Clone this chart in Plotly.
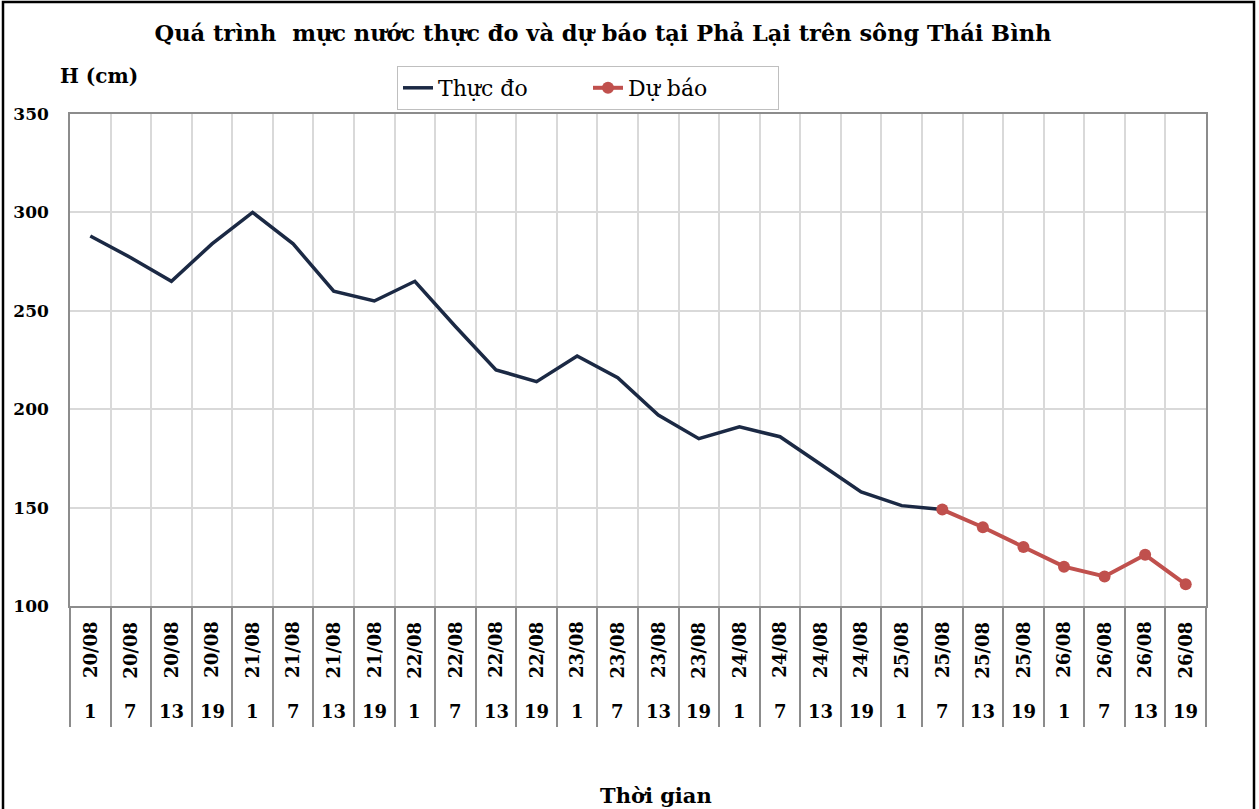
import plotly.graph_objects as go

# ---- data ----
dates = ["20/08"] * 4 + ["21/08"] * 4 + ["22/08"] * 4 + ["23/08"] * 4 + ["24/08"] * 4 + ["25/08"] * 4 + ["26/08"] * 4
hours = ["1", "7", "13", "19"] * 7

observed_values = [288, 277, 265, 284, 300, 284, 260, 255, 265, 242, 220, 214,
                   227, 216, 197, 185, 191, 186, 172, 158, 151, 149]
forecast_values = [149, 140, 130, 120, 115, 126, 111]

n = len(dates)
x_obs = list(range(len(observed_values)))
x_fc = list(range(len(observed_values) - 1, len(observed_values) - 1 + len(forecast_values)))

FONT = "DejaVu Serif"
NAVY = "#1b2944"
RED = "#c0504d"

fig = go.Figure()
fig.add_trace(go.Scatter(x=x_obs, y=observed_values, mode="lines", name="Thực đo",
                         line=dict(color=NAVY, width=3.5)))
fig.add_trace(go.Scatter(x=x_fc, y=forecast_values, mode="lines+markers", name="Dự báo",
                         line=dict(color=RED, width=4), marker=dict(color=RED, size=12)))

boundaries = [i - 0.5 for i in range(n + 1)]

# category labels under the axis
for i in range(n):
    fig.add_annotation(x=i, y=-0.089, xref="x", yref="paper", text=f"<b>{dates[i]}</b>",
                       textangle=-90, showarrow=False, font=dict(family=FONT, size=18, color="black"),
                       xanchor="center", yanchor="middle")
    fig.add_annotation(x=i, y=-0.215, xref="x", yref="paper", text=f"<b>{hours[i]}</b>",
                       showarrow=False, font=dict(family=FONT, size=18, color="black"),
                       xanchor="center", yanchor="middle")

fig.add_annotation(x=(656 - 70) / 1136, y=(606 - 795) / 492, xref="paper", yref="paper", text="<b>Thời gian</b>",
                   showarrow=False, font=dict(family=FONT, size=21, color="black"),
                   xanchor="center", yanchor="middle")
fig.add_annotation(x=(99 - 70) / 1136, y=(606 - 76) / 492, xref="paper", yref="paper", text="<b>H (cm)</b>",
                   showarrow=False, font=dict(family=FONT, size=20, color="black"),
                   xanchor="center", yanchor="middle")

# outer frame of the chart
fig.add_shape(type="rect", xref="paper", yref="paper",
              x0=-67 / 1136, x1=(1254 - 70) / 1136, y0=(606 - 840) / 492, y1=(606 - 2) / 492,
              line=dict(color="black", width=2.5), layer="above")

fig.update_layout(
    width=1259, height=809,
    margin=dict(l=70, r=53, t=114, b=203),
    paper_bgcolor="white", plot_bgcolor="white",
    font=dict(family=FONT, color="black"),
    title=dict(text="<b>Quá trình  mực nước thực đo và dự báo tại Phả Lại trên sông Thái Bình</b>",
               x=603 / 1259, xanchor="center", y=1 - 33 / 809, yanchor="middle",
               font=dict(family=FONT, size=22.5, color="black")),
    legend=dict(orientation="h", x=(588 - 70) / 1136, xanchor="center", y=(606 - 66) / 492, yanchor="top",
                bordercolor="#bfbfbf", borderwidth=1, bgcolor="white",
                font=dict(family=FONT, size=22, color="black"),
                entrywidth=145, entrywidthmode="pixels", tracegroupgap=0),
    showlegend=True,
)

fig.update_xaxes(range=[-0.5, n - 0.5], tickmode="array", tickvals=boundaries,
                 showticklabels=False, showgrid=True, gridcolor="#d9d9d9", gridwidth=1.5,
                 ticks="outside", ticklen=119, tickcolor="#8c8c8c", tickwidth=1.5,
                 showline=True, linecolor="#8c8c8c", linewidth=1.5, mirror=True, zeroline=False)
fig.update_yaxes(range=[100, 350], tickmode="linear", tick0=100, dtick=50,
                 tickprefix="<b>", ticksuffix="</b>",
                 tickfont=dict(family=FONT, size=17, color="black"),
                 ticklabelstandoff=16,
                 showgrid=True, gridcolor="#d9d9d9", gridwidth=1.5,
                 showline=True, linecolor="#8c8c8c", linewidth=1.5, mirror=True, zeroline=False)

fig.write_html("out.html", config={"displayModeBar": False},
               post_script="document.body.style.margin='0';document.body.style.overflow='hidden';")
